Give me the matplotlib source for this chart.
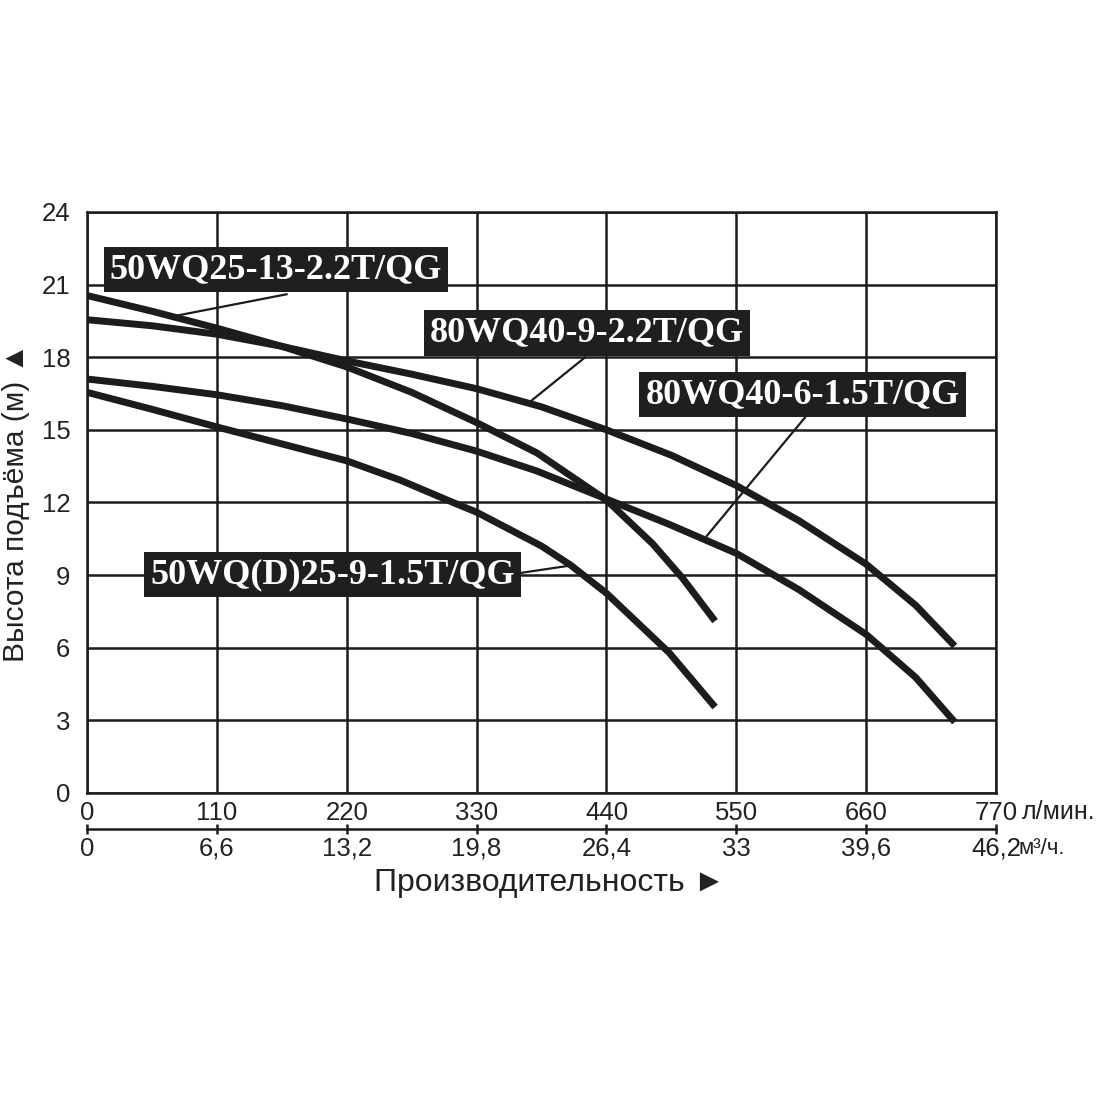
import matplotlib
matplotlib.use('Agg')
import matplotlib.pyplot as plt

# ---------------- data ----------------
flow_ticks = [0, 110, 220, 330, 440, 550, 660, 770]
flow_tick_labels = ['0', '110', '220', '330', '440', '550', '660', '770']
flow_m3h_ticks = [0, 6.6, 13.2, 19.8, 26.4, 33, 39.6, 46.2]
flow_m3h_labels = ['0', '6,6', '13,2', '19,8', '26,4', '33', '39,6', '46,2']
head_ticks = [0, 3, 6, 9, 12, 15, 18, 21, 24]

# 50WQ25-13-2.2T/QG
a_x = [0, 55, 110, 165, 220, 275, 330, 381, 440, 479, 504, 532]
a_y = [20.55, 19.9, 19.2, 18.45, 17.6, 16.55, 15.3, 14.05, 12.1, 10.3, 8.9, 7.1]
# 80WQ40-9-2.2T/QG
b_x = [0, 55, 110, 165, 220, 275, 330, 385, 440, 495, 550, 603, 660, 702, 735]
b_y = [19.55, 19.3, 18.95, 18.45, 17.85, 17.3, 16.7, 15.95, 15.0, 13.95, 12.7,
       11.25, 9.45, 7.75, 6.07]
# 80WQ40-6-1.5T/QG
c_x = [0, 55, 110, 165, 220, 275, 330, 381, 437, 493, 550, 603, 660, 702, 735]
c_y = [17.1, 16.8, 16.45, 16.0, 15.45, 14.85, 14.12, 13.3, 12.2, 11.1, 9.9,
       8.4, 6.55, 4.77, 2.93]
# 50WQ(D)25-9-1.5T/QG
d_x = [0, 55, 110, 165, 220, 265, 310, 330, 385, 410, 440, 493, 532]
d_y = [16.55, 15.85, 15.12, 14.42, 13.72, 12.93, 12.0, 11.6, 10.2, 9.4, 8.25,
       5.8, 3.55]

series_x = [a_x, b_x, c_x, d_x]
series_y = [a_y, b_y, c_y, d_y]
series_names = ['50WQ25-13-2.2T/QG', '80WQ40-9-2.2T/QG',
                '80WQ40-6-1.5T/QG', '50WQ(D)25-9-1.5T/QG']
# label box centres, leader start (on box) and leader end (on curve)
label_pos = [(160, 21.63), (423.5, 19.0), (606, 16.47), (208, 9.03)]
leader_start = [(169, 20.6), (422, 18.0), (608, 15.5), (366, 9.08)]
leader_end = [(74, 19.7), (375, 16.15), (525, 10.62), (410, 9.4)]

# ---------------- figure ----------------
fig = plt.figure(figsize=(11, 11), dpi=100)
fig.patch.set_facecolor('white')
ax = fig.add_axes([0.0791, 0.2791, 0.8264, 0.5282])
ink = '#1c1c1c'
txt = '#222222'
sans = ['Liberation Sans', 'DejaVu Sans']
serif = ['Liberation Serif', 'DejaVu Serif']

ax.set_xlim(0, 770)
ax.set_ylim(0, 24)
ax.set_xticks(flow_ticks)
ax.set_xticklabels(flow_tick_labels)
ax.set_yticks(head_ticks)
ax.grid(True, color=ink, lw=1.8, zorder=1)
for s in ax.spines.values():
    s.set_color(ink)
    s.set_linewidth(1.8)
    s.set_zorder(2)
ax.tick_params(axis='both', length=0, labelsize=18.5, colors=txt)
ax.tick_params(axis='x', pad=6)
ax.tick_params(axis='y', pad=12)
for lab in ax.get_xticklabels() + ax.get_yticklabels():
    lab.set_family(sans)

for xs, ys in zip(series_x, series_y):
    ax.plot(xs, ys, color=ink, lw=5.0, solid_capstyle='butt',
            solid_joinstyle='round', zorder=3)

for name, (tx, ty), (sx, sy), (ex, ey) in zip(series_names, label_pos,
                                              leader_start, leader_end):
    ax.plot([sx, ex], [sy, ey], color=ink, lw=1.6, zorder=4)
    ax.text(tx, ty, name, ha='center', va='center', color='white',
            fontsize=26, fontweight='bold', family=serif, zorder=6,
            bbox=dict(boxstyle='square,pad=0.17', fc='#1f1f1f', ec='none'))

fig.text(0.929, 1 - 812 / 1100, 'л/мин.', ha='left', va='center',
         fontsize=18, family=sans, color=txt)

ax.set_ylabel('Высота подъёма (м) ▲', fontsize=21.5, family=sans,
              color=txt, labelpad=8)

# second flow axis (m3/h)
ax2 = fig.add_axes([0.0791, 1 - 829 / 1100, 0.8264, 0.0001])
ax2.set_xlim(0, 46.2)
ax2.set_ylim(0, 1)
for k in ['left', 'right', 'top']:
    ax2.spines[k].set_visible(False)
ax2.spines['bottom'].set_color(ink)
ax2.spines['bottom'].set_linewidth(1.8)
ax2.set_yticks([])
ax2.set_xticks(flow_m3h_ticks)
ax2.set_xticklabels(flow_m3h_labels)
ax2.tick_params(axis='x', direction='inout', length=7, width=1.8,
                color=ink, labelsize=18.5, pad=2, labelcolor=txt)
for lab in ax2.get_xticklabels():
    lab.set_family(sans)
ax2.patch.set_alpha(0)

fig.text(0.926, 1 - 848 / 1100, 'м³/ч.', ha='left', va='center',
         fontsize=16, family=sans, color=txt)

fig.text(0.5, 1 - 883 / 1100, 'Производительность ►', ha='center',
         va='center', fontsize=23, family=sans, color=txt)

fig.savefig('out.png', dpi=100, facecolor='white')
